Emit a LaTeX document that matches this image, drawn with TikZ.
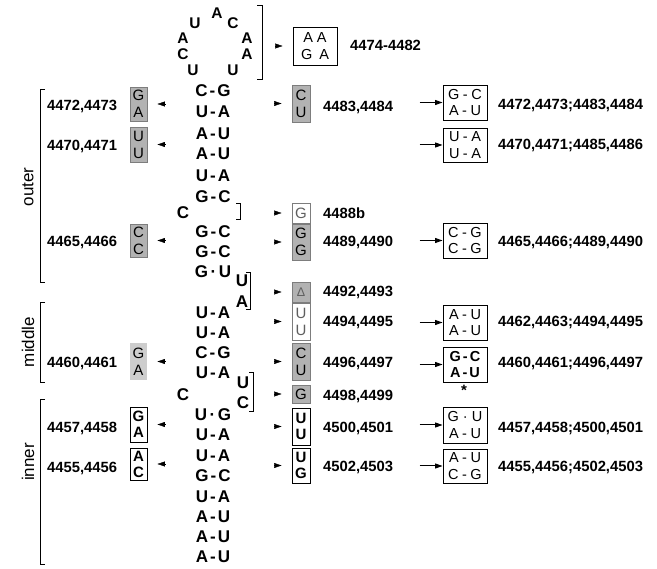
\documentclass[tikz,border=0pt]{standalone}
\usepackage{fontspec}
\setmainfont{Liberation Sans}
\usetikzlibrary{arrows.meta,calc}
\definecolor{bxg}{RGB}{178,178,178}
\definecolor{bxe}{RGB}{125,125,125}
\definecolor{bxl}{RGB}{205,205,205}
\definecolor{txg}{RGB}{95,95,95}
\newcommand\bpr[2]{#1\kern2pt-\kern2pt#2}
\newcommand\bpw[2]{#1\kern2.5pt\textperiodcentered\kern2.5pt#2}
\newcommand\bpq[2]{#1\kern3.5pt-\kern3.5pt#2}
\newcommand\bpv[2]{#1\kern4pt\textperiodcentered\kern4pt#2}
\begin{document}
\begin{tikzpicture}[x=1pt,y=-1pt,
 stem/.style={font=\bfseries\fontsize{17}{17}\selectfont, inner sep=0pt},
 loopl/.style={font=\bfseries\fontsize{15.5}{15.5}\selectfont, inner sep=0pt},
 lbl/.style={font=\bfseries\fontsize{14.8}{14.8}\selectfont, inner sep=0pt, anchor=west},
 side/.style={font=\fontsize{17}{17}\selectfont, rotate=90, inner sep=0pt},
 bx/.style={inner sep=0pt, align=center, font=\fontsize{15}{17}\selectfont, line width=0.9pt},
 gbx/.style={bx, fill=bxg, draw=bxe},
 lgbx/.style={bx, fill=bxl},
 wbx/.style={bx, fill=white, draw=bxe, text=txg},
 kbx/.style={bx, draw=black, font=\bfseries\fontsize{15}{16}\selectfont},
 pbx/.style={bx, draw=black, line width=0.9pt, font=\fontsize{14.5}{16.5}\selectfont},
 tipar/.style={-{Triangle[length=7.5pt,width=5pt]}, line width=0.4pt},
 arr/.style={-{Triangle[length=7.5pt,width=5pt]}, line width=1pt},
 brk/.style={line width=1pt}]
\useasboundingbox (0,0) rectangle (657,569);

% hairpin loop
\node[loopl] (h1) at (217,13) {A};
\node[loopl] (h2) at (195,23) {U};
\node[loopl] (h3) at (233,23) {C};
\node[loopl] (h4) at (183,38) {A};
\node[loopl] (h5) at (247,38) {A};
\node[loopl] (h6) at (183,54) {C};
\node[loopl] (h7) at (247,54) {A};
\node[loopl] (h8) at (193,70) {U};
\node[loopl] (h9) at (233,70) {U};
\draw[brk] (257,6) -- (262,6) -- (262,80) -- (257,80);

% stem
\foreach \t/\y [count=\i] in {
 \bpr{C}{G}/91, \bpr{U}{A}/112, \bpr{A}{U}/134, \bpr{A}{U}/154, \bpr{U}{A}/176,
 \bpr{G}{C}/197, \bpr{G}{C}/232, \bpr{G}{C}/252, \bpw{G}{U}/272,
 \bpr{U}{A}/313, \bpr{U}{A}/333, \bpr{C}{G}/353, \bpr{U}{A}/373,
 \bpw{U}{G}/415, \bpr{U}{A}/435, \bpr{U}{A}/456, \bpr{G}{C}/476,
 \bpr{U}{A}/497, \bpr{A}{U}/517, \bpr{A}{U}/537, \bpr{A}{U}/557}
 \node[stem] (s\i) at (213,\y) {\t};

% bulges
\node[stem] (c1) at (183,213) {C};
\draw[brk] (236,204) -- (240,204) -- (240,220) -- (236,220);
\node[stem] (u1) at (242,281) {U};
\node[stem] (a1) at (242,302) {A};
\draw[brk] (246,273) -- (250,273) -- (250,310) -- (246,310);
\node[stem] (c2) at (183,395) {C};
\node[stem] (u2) at (243,383) {U};
\node[stem] (c3) at (243,403) {C};
\draw[brk] (249,373) -- (253,373) -- (253,412) -- (249,412);

% side brackets
\draw[brk] (45,90) -- (40,90) -- (40,283) -- (45,283);
\draw[brk] (45,303) -- (40,303) -- (40,383) -- (45,383);
\draw[brk] (45,400) -- (40,400) -- (40,565) -- (45,565);
\node[side] (outer) at (28,187) {outer};
\node[side] (middle) at (28,342) {middle};
\node[side] (inner) at (28,462) {inner};

% left boxes
\node[gbx, minimum width=17, minimum height=34] (bL1) at (138.5,104) {G\\A};
\node[gbx, minimum width=17, minimum height=35] (bL2) at (138.5,144.5) {U\\U};
\node[gbx, minimum width=17, minimum height=33] (bL3) at (138.5,240.5) {C\\C};
\node[lgbx, minimum width=17, minimum height=37] (bL4) at (138.5,361.5) {G\\A};
\node[kbx, minimum width=17, minimum height=35] (bL5) at (138.5,424.5) {G\\A};
\node[kbx, minimum width=17, minimum height=32] (bL6) at (138.5,464) {A\\C};
\node[lbl] at (47,106) {4472,4473};
\node[lbl] at (47,146) {4470,4471};
\node[lbl] at (47,242) {4465,4466};
\node[lbl] at (47,363) {4460,4461};
\node[lbl] at (47,428) {4457,4458};
\node[lbl] at (47,468) {4455,4456};
\foreach \b in {bL1,bL2,bL3,bL4,bL5,bL6}
 \draw[tipar] ($(\b.east)+(18,0)$) -- ($(\b.east)+(10,0)$);

% hairpin box
\node[pbx, minimum width=44, minimum height=38, font=\fontsize{14.5}{17}\selectfont] (hb) at (315,46) {A\kern4pt A\\G\kern7pt A};
\node[lbl] at (350,45) {4474-4482};
\draw[tipar] ($(hb.west)+(-17,0)$) -- ($(hb.west)+(-10,0)$);

% right column 1
\node[gbx, minimum width=18, minimum height=37] (bR1) at (301,103.5) {C\\U};
\node[wbx, minimum width=18, minimum height=20] (bR2) at (301,213) {G};
\node[gbx, minimum width=18, minimum height=36] (bR3) at (301,242) {G\\G};
\node[gbx, minimum width=18, minimum height=20, font=\fontsize{12.5}{12.5}\selectfont, text=txg] (bR4) at (301,292) {Δ};
\node[wbx, minimum width=18, minimum height=37] (bR5) at (301,321.5) {U\\U};
\node[gbx, minimum width=18, minimum height=37] (bR6) at (301,361.5) {C\\U};
\node[gbx, minimum width=18, minimum height=18] (bR7) at (301,394) {G};
\node[kbx, minimum width=18, minimum height=37] (bR8) at (301,426.5) {U\\U};
\node[kbx, minimum width=18, minimum height=35] (bR9) at (301,465.5) {U\\G};
\node[lbl] at (323,107) {4483,4484};
\node[lbl] at (323,213) {4488b};
\node[lbl] at (323,242) {4489,4490};
\node[lbl] at (323,292) {4492,4493};
\node[lbl] at (323,322) {4494,4495};
\node[lbl] at (323,363) {4496,4497};
\node[lbl] at (323,396) {4498,4499};
\node[lbl] at (323,428) {4500,4501};
\node[lbl] at (323,467) {4502,4503};
\foreach \b in {bR1,bR2,bR3,bR4,bR5,bR6,bR7,bR8,bR9}
 \draw[tipar] ($(\b.west)+(-17,0)$) -- ($(\b.west)+(-10,0)$);

% right column 2
\node[pbx, minimum width=44, minimum height=35] (bP1) at (465,102.5) {\bpq{G}{C}\\\bpq{A}{U}};
\node[pbx, minimum width=44, minimum height=34] (bP2) at (465,145) {\bpq{U}{A}\\\bpq{U}{A}};
\node[pbx, minimum width=44, minimum height=35] (bP3) at (465,240.5) {\bpq{C}{G}\\\bpq{C}{G}};
\node[pbx, minimum width=44, minimum height=35] (bP4) at (465,322.5) {\bpq{A}{U}\\\bpq{A}{U}};
\node[pbx, minimum width=44, minimum height=35, font=\bfseries\fontsize{14.5}{16.5}\selectfont] (bP5) at (465,364.5) {\bpr{G}{C}\\\bpr{A}{U}};
\node[pbx, minimum width=44, minimum height=36] (bP6) at (465,425) {\bpv{G}{U}\\\bpq{A}{U}};
\node[pbx, minimum width=44, minimum height=34] (bP7) at (465,466) {\bpq{A}{U}\\\bpq{C}{G}};
\node[font=\bfseries\fontsize{15}{15}\selectfont, inner sep=0pt] (star) at (464,390) {*};
\node[lbl] at (498,105) {4472,4473;4483,4484};
\node[lbl] at (498,145) {4470,4471;4485,4486};
\node[lbl] at (498,242) {4465,4466;4489,4490};
\node[lbl] at (498,322) {4462,4463;4494,4495};
\node[lbl] at (498,363) {4460,4461;4496,4497};
\node[lbl] at (498,428) {4457,4458;4500,4501};
\node[lbl] at (498,467) {4455,4456;4502,4503};
\foreach \b in {bP1,bP2,bP3,bP4,bP5,bP6,bP7}
 \draw[arr] ($(\b.west)+(-23,0)$) -- (\b.west);
\end{tikzpicture}
\end{document}
